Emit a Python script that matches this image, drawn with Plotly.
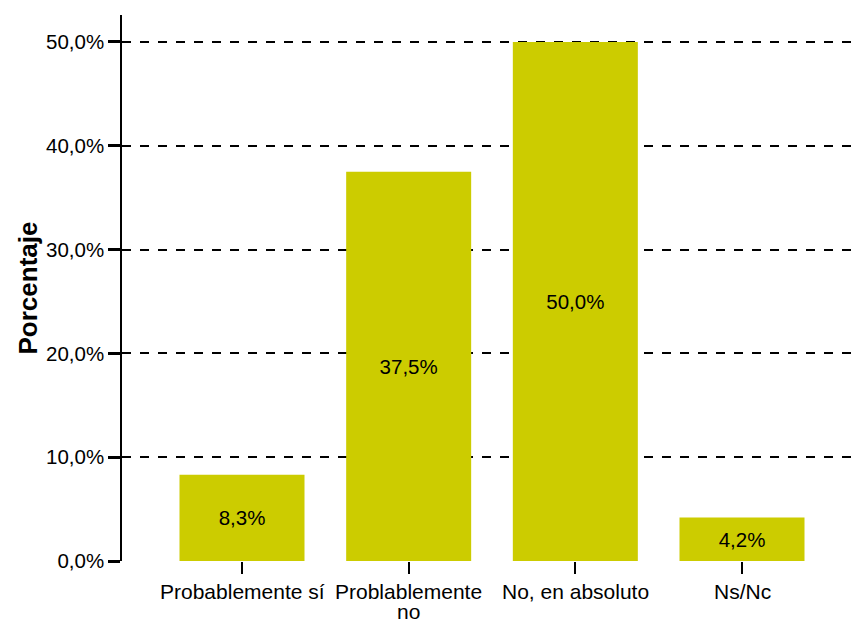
import plotly.graph_objects as go

categories = ["Probablemente sí", "Problablemente<br>no", "No, en absoluto", "Ns/Nc"]
percentages = [8.3, 37.5, 50.0, 4.2]
bar_labels = ["8,3%", "37,5%", "50,0%", "4,2%"]
y_tick_values = [0, 10, 20, 30, 40, 50]
y_tick_labels = ["0,0%", "10,0%", "20,0%", "30,0%", "40,0%", "50,0%"]

font_family = "Liberation Sans, Arial, sans-serif"

fig = go.Figure(
    go.Bar(
        x=categories,
        y=percentages,
        text=bar_labels,
        textposition="inside",
        insidetextanchor="middle",
        textangle=0,
        textfont=dict(family=font_family, size=20.5, color="#000000"),
        marker=dict(color="#CCCC00", line=dict(width=0)),
        width=0.75,
        hoverinfo="skip",
    )
)

# Category names under the ticks, one annotation per line so the
# wrapped label keeps a tight line spacing.
for cat in categories:
    for i, line in enumerate(cat.split("<br>")):
        fig.add_annotation(
            x=cat,
            y=0,
            xref="x",
            yref="y",
            text=line,
            showarrow=False,
            xanchor="center",
            yanchor="middle",
            yshift=-30 - 20 * i,
            font=dict(family=font_family, size=21, color="#000000"),
        )

fig.update_layout(
    width=852,
    height=619,
    margin=dict(l=122, r=0, t=15, b=58),
    paper_bgcolor="white",
    plot_bgcolor="white",
    font=dict(family=font_family, size=20.5, color="#000000"),
    showlegend=False,
)

fig.update_xaxes(
    range=[-0.72, 3.66],
    automargin=False,
    showline=False,
    showgrid=False,
    zeroline=False,
    showticklabels=False,
    ticks="outside",
    ticklen=12,
    tickwidth=2,
    tickcolor="#000000",
)

fig.update_yaxes(
    range=[0, 52.6],
    automargin=False,
    tickvals=y_tick_values,
    ticktext=y_tick_labels,
    showline=True,
    linecolor="#000000",
    linewidth=1.5,
    ticks="outside",
    ticklen=12,
    tickwidth=3,
    tickcolor="#000000",
    tickfont=dict(size=20.5),
    showgrid=True,
    gridcolor="#000000",
    gridwidth=1.5,
    griddash="dash",
    zeroline=False,
    title=dict(text="<b>Porcentaje</b>", font=dict(size=26), standoff=1),
)

fig.write_html("out.html")
